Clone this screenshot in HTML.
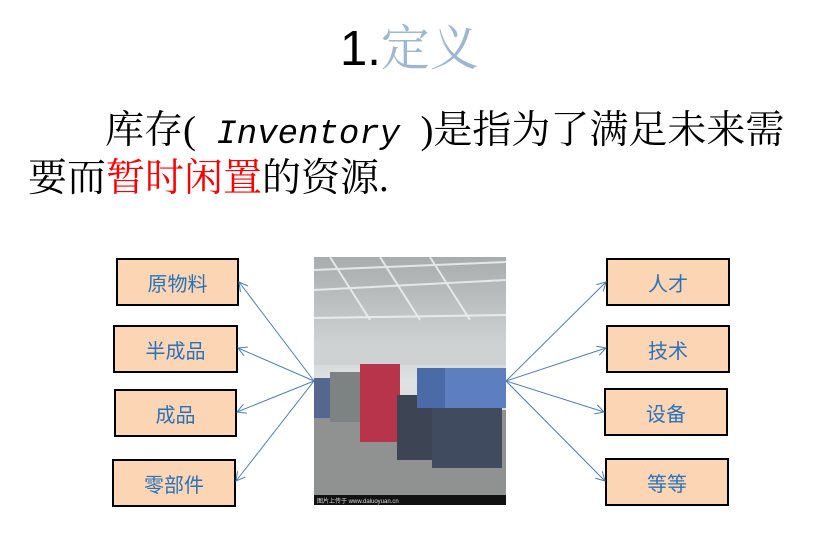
<!DOCTYPE html>
<html><head><meta charset="utf-8"><style>
body{margin:0;width:832px;height:537px;background:#fff;position:relative;overflow:hidden;font-family:"Liberation Sans","Noto Sans CJK SC",sans-serif}
.t{position:absolute;white-space:nowrap}
.box{position:absolute;background:#fcd5b4;border:2px solid #000;box-sizing:border-box;display:flex;align-items:center;justify-content:center;color:#2a73b8;font-size:20px;font-family:"Noto Sans CJK SC",sans-serif}
</style></head><body>
<div class="t" style="left:340px;top:16px;font-size:49px;line-height:58px;font-family:'Liberation Sans','Noto Sans CJK SC',sans-serif"><span>1.</span><span style="color:#9db6d4;font-family:'Noto Serif CJK SC',serif">定义</span></div>
<div class="t" style="left:105px;top:109px;font-size:39px;line-height:44px;font-family:'Liberation Serif','Noto Serif CJK SC',serif">库存(<span style="font-family:'Liberation Mono',monospace;font-style:italic;font-size:34px"> Inventory </span>)是指为了满足未来需</div>
<div class="t" style="left:28px;top:157px;font-size:39px;line-height:44px;font-family:'Liberation Serif','Noto Serif CJK SC',serif">要而<span style="color:#f00">暂时闲置</span>的资源.</div>

<div class="box" style="left:116px;top:258px;width:123px;height:48px">原物料</div>
<div class="box" style="left:113px;top:325px;width:125px;height:48px">半成品</div>
<div class="box" style="left:114px;top:389px;width:123px;height:48px">成品</div>
<div class="box" style="left:112px;top:459px;width:124px;height:48px">零部件</div>
<div class="box" style="left:606px;top:258px;width:124px;height:48px">人才</div>
<div class="box" style="left:606px;top:325px;width:124px;height:48px">技术</div>
<div class="box" style="left:604px;top:388px;width:124px;height:48px">设备</div>
<div class="box" style="left:605px;top:458px;width:124px;height:48px">等等</div>

<svg style="position:absolute;left:0;top:0" width="832" height="537">
<defs>
<linearGradient id="roof" x1="0" y1="0" x2="0" y2="1"><stop offset="0" stop-color="#a8acad"/><stop offset="0.5" stop-color="#dfe2e2"/><stop offset="1" stop-color="#bfc3c2"/></linearGradient>
<marker id="a" markerWidth="10" markerHeight="10" refX="9" refY="5" orient="auto" markerUnits="userSpaceOnUse"><path d="M0,0 L9,5 L0,10" fill="none" stroke="#4a7ebb" stroke-width="1"/></marker>
</defs>
<rect x="314" y="257" width="192" height="248" fill="url(#roof)"/>
<g stroke="#f4f4f4" stroke-width="2" opacity="0.8">
<line x1="314" y1="270" x2="506" y2="262"/><line x1="314" y1="290" x2="506" y2="280"/><line x1="330" y1="257" x2="370" y2="320"/><line x1="380" y1="257" x2="420" y2="320"/><line x1="430" y1="257" x2="470" y2="320"/><line x1="314" y1="318" x2="506" y2="315"/>
</g>
<rect x="314" y="340" width="192" height="25" fill="#cfd2d2"/>
<rect x="314" y="410" width="192" height="85" fill="#8f9290"/>
<rect x="330" y="372" width="30" height="50" fill="#7d8282"/>
<rect x="360" y="364" width="40" height="78" fill="#b8344b"/>
<rect x="397" y="395" width="40" height="65" fill="#3d4555"/>
<rect x="417" y="368" width="40" height="40" fill="#4b6aa8"/>
<rect x="445" y="368" width="61" height="40" fill="#5d7fc0"/>
<rect x="432" y="408" width="70" height="60" fill="#404b5f"/>
<rect x="314" y="378" width="16" height="40" fill="#55678e"/>
<rect x="314" y="495" width="192" height="10" fill="#111"/>
<text x="317" y="503" font-size="6" fill="#ddd" font-family="Liberation Sans">图片上传于 www.daluoyuan.cn</text>
<g stroke="#4a7ebb" stroke-width="1" fill="none" marker-end="url(#a)">
<line x1="314" y1="381" x2="239" y2="282"/>
<line x1="314" y1="381" x2="238" y2="348"/>
<line x1="314" y1="381" x2="237" y2="412"/>
<line x1="314" y1="381" x2="236" y2="481"/>
<line x1="506" y1="381" x2="606" y2="282"/>
<line x1="506" y1="381" x2="606" y2="348"/>
<line x1="506" y1="381" x2="604" y2="412"/>
<line x1="506" y1="381" x2="605" y2="481"/>
</g>
</svg>
</body></html>
